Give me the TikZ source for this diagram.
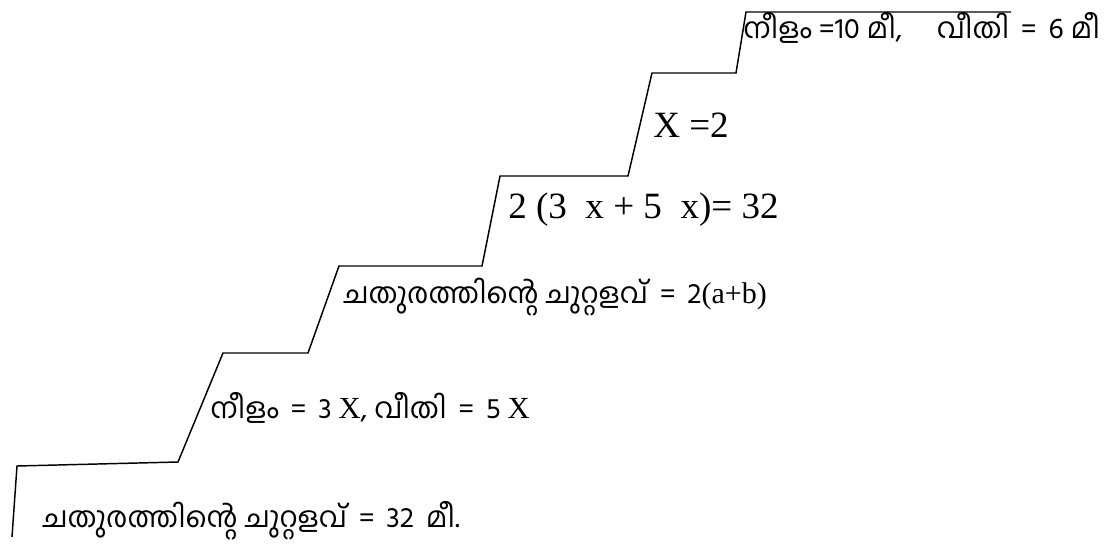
\documentclass[tikz,border=0pt]{standalone}
\usepackage{fontspec}
\setmainfont{Liberation Serif}
\newfontfamily\mlfont[Script=Malayalam]{Hind Kochi}
\begin{document}
\begin{tikzpicture}[x=0.75pt,y=-0.75pt,
  stair/.style={line width=1.1pt, line join=miter},
  mltext/.style={font=\mlfont\fontsize{21.5}{26}\selectfont, anchor=base west, inner sep=0pt},
  sertext/.style={font=\rmfamily\fontsize{27.8}{32}\selectfont, anchor=base west, inner sep=0pt}]
\useasboundingbox (0,0) rectangle (1118,543);
\coordinate (p1) at (12,537);
\coordinate (p2) at (17,466);
\coordinate (p3) at (178,462);
\coordinate (p4) at (223,353);
\coordinate (p5) at (308,353);
\coordinate (p6) at (339,266);
\coordinate (p7) at (482,266);
\coordinate (p8) at (500,176);
\coordinate (p9) at (628,176);
\coordinate (p10) at (652,73);
\coordinate (p11) at (736,73);
\coordinate (p12) at (746,12);
\coordinate (p13) at (1011,12);
\draw[stair] (p1) -- (p2) -- (p3) -- (p4) -- (p5) -- (p6) -- (p7) -- (p8) -- (p9) -- (p10) -- (p11) -- (p12) -- (p13);
\node[mltext] (t1) at (42,527) {ചതുരത്തിന്റെ ചുറ്റളവ് \,=\, 32 \,മീ.};
\node[mltext] (t2) at (210,418) {നീളം \,=\, 3 {\rmfamily\fontsize{23}{26}\selectfont X}, വീതി \,=\, 5 {\rmfamily\fontsize{23}{26}\selectfont X}};
\node[mltext] (t3) at (343,303) {ചതുരത്തിന്റെ ചുറ്റളവ് \,=\, 2{\rmfamily\fontsize{22.5}{26}\selectfont(a+b)}};
\node[sertext] (t4) at (508,218) {2 (3 \ x + 5 \ x)= 32};
\node[sertext] (t5) at (653,137) {X =2};
\node[mltext] (t6) at (743,38) {നീളം =10 മീ,\hspace{1.2em}വീതി \,=\, 6 മീ};
\end{tikzpicture}
\end{document}
